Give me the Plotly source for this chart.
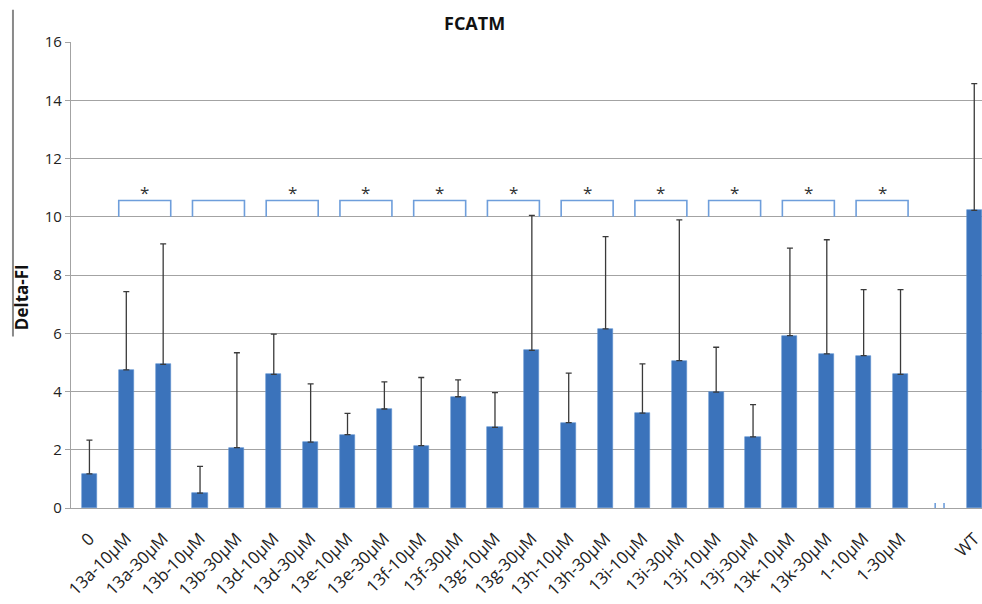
import plotly.graph_objects as go

# Treatment groups (WT is plotted after a gap slot)
categories = ["0", "13a-10μM", "13a-30μM", "13b-10μM", "13b-30μM", "13d-10μM",
              "13d-30μM", "13e-10μM", "13e-30μM", "13f-10μM", "13f-30μM",
              "13g-10μM", "13g-30μM", "13h-10μM", "13h-30μM", "13i-10μM",
              "13i-30μM", "13j-10μM", "13j-30μM", "13k-10μM", "13k-30μM",
              "1-10μM", "1-30μM", "WT"]
positions = list(range(23)) + [24]

# Mean Delta-FI per group
means = [1.17, 4.74, 4.93, 0.51, 2.07, 4.59, 2.26, 2.52, 3.40, 2.14, 3.82,
         2.77, 5.41, 2.93, 6.15, 3.26, 5.06, 3.98, 2.44, 5.92, 5.29, 5.23, 4.59,
         10.22]
# Upper end of each error bar
upper = [2.33, 7.43, 9.07, 1.43, 5.33, 5.97, 4.26, 3.25, 4.33, 4.48, 4.40,
         3.96, 10.05, 4.63, 9.32, 4.95, 9.89, 5.52, 3.55, 8.92, 9.21, 7.50, 7.50,
         14.57]

# Significance brackets: (first group index, second group index, starred)
brackets = [(1, 2, True), (3, 4, False), (5, 6, True), (7, 8, True),
            (9, 10, True), (11, 12, True), (13, 14, True), (15, 16, True),
            (17, 18, True), (19, 20, True), (21, 22, True)]
bracket_low, bracket_high, star_level = 10.0, 10.56, 10.82

y_ticks = [0, 2, 4, 6, 8, 10, 12, 14, 16]

BAR_W = 0.41
BAR_COLOR = "#3b73bb"
BRACKET_COLOR = "#6e9edb"
GRID = "#a3a3a3"
FONT = "Open Sans"

fig = go.Figure()
fig.add_trace(go.Bar(
    x=positions, y=means, width=BAR_W,
    marker=dict(color=BAR_COLOR, line=dict(color="#5d8fd0", width=0.6)),
    error_y=dict(type="data", symmetric=False,
                 array=[u - m for u, m in zip(upper, means)],
                 arrayminus=[0] * len(means),
                 color="#3a3a3a", thickness=1.3, width=3),
    showlegend=False,
))

shapes = []
annotations = []
for a, b, starred in brackets:
    x0 = a - BAR_W / 2
    x1 = b + BAR_W / 2
    shapes.append(dict(
        type="path", xref="x", yref="y",
        path=f"M {x0},{bracket_low} L {x0},{bracket_high} L {x1},{bracket_high} L {x1},{bracket_low}",
        line=dict(color=BRACKET_COLOR, width=1.6),
    ))
    if starred:
        annotations.append(dict(
            x=(a + b) / 2, y=star_level, xref="x", yref="y", text="*",
            showarrow=False, font=dict(family=FONT, size=17, color="#333333"),
            yanchor="middle",
        ))

# Axis break marks in the gap before WT
for bx in (22.94, 23.18):
    shapes.append(dict(type="line", xref="x", yref="y", x0=bx, x1=bx,
                       y0=-0.17, y1=0.17,
                       line=dict(color=BRACKET_COLOR, width=1.6)))

# Vertical rule beside the y-axis title
shapes.append(dict(type="line", xref="paper", yref="paper",
                   x0=-0.0637, x1=-0.0637, y0=1.069, y1=0.368,
                   line=dict(color="#8a8a8a", width=2)))

annotations.append(dict(
    text="<b>Delta-FI</b>", textangle=-90, xref="paper", yref="paper",
    x=-0.054, y=0.452, showarrow=False, xanchor="center", yanchor="middle",
    font=dict(family=FONT, size=17, color="#111111"),
))
annotations.append(dict(
    text="<b>FCATM</b>", xref="paper", yref="paper", x=0.443, y=1.04,
    showarrow=False, xanchor="center", yanchor="middle",
    font=dict(family=FONT, size=18, color="#111111"),
))

fig.update_layout(
    width=982, height=604,
    margin=dict(l=71, r=0, t=42, b=96),
    plot_bgcolor="white", paper_bgcolor="white",
    shapes=shapes, annotations=annotations,
    xaxis=dict(
        range=[-0.5, 24.21], tickmode="array", tickvals=positions,
        ticktext=categories, tickangle=-45,
        tickfont=dict(family=FONT, size=17, color="#222222"),
        ticklabelstandoff=13, ticklabeloverflow="allow",
        showgrid=False, showline=True, linecolor=GRID, linewidth=1.2,
        ticks="", zeroline=False, automargin=False,
    ),
    yaxis=dict(
        range=[0, 16], tickmode="array", tickvals=y_ticks,
        tickfont=dict(family=FONT, size=15, color="#222222"),
        showgrid=True, gridcolor=GRID, gridwidth=1.2,
        showline=True, linecolor=GRID, linewidth=1.2,
        ticks="outside", ticklen=5, tickcolor=GRID, zeroline=False,
    ),
    bargap=0,
)

fig.write_html("out.html")
